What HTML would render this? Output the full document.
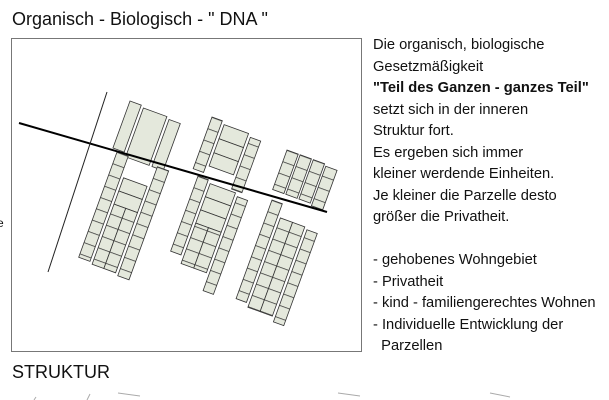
<!DOCTYPE html>
<html><head><meta charset="utf-8">
<style>
html,body{margin:0;padding:0;background:#fff;}
body{width:609px;height:400px;overflow:hidden;position:relative;font-family:"Liberation Sans",Arial,sans-serif;}
.t{position:absolute;white-space:nowrap;color:#111;}
</style></head><body>
<svg width="609" height="400" style="position:absolute;left:0;top:0">
<defs>
<pattern id="c" patternUnits="userSpaceOnUse" width="200" height="12">
<rect width="200" height="12" fill="#e4e8dc"/>
<path d="M0 0.4H200" stroke="#333" stroke-width="0.8"/>
</pattern>
</defs>
<rect x="11.5" y="38.5" width="350" height="313" fill="none" stroke="#777" stroke-width="1"/>
<g stroke="#333" stroke-width="0.8">
<g transform="translate(130,101) rotate(20)" fill="#e4e8dc">
<rect x="0" y="0" width="12" height="50"/>
<rect x="15" y="2" width="25" height="52"/>
<rect x="43" y="4" width="12" height="50"/>
</g>
<g transform="translate(117,152) rotate(20)">
<rect x="0" y="0" width="12" height="112" fill="url(#c)"/>
<rect x="15" y="22" width="25" height="14" fill="#e4e8dc"/>
<rect x="15" y="36" width="25" height="14" fill="#e4e8dc"/>
<rect x="15" y="50" width="12.5" height="64" fill="url(#c)"/>
<rect x="27.5" y="50" width="12.5" height="64" fill="url(#c)"/>
<rect x="43" y="0" width="12" height="116" fill="url(#c)"/>
</g>
<g transform="translate(212,117) rotate(20)">
<rect x="0" y="0" width="11" height="55" fill="url(#c)"/>
<rect x="14" y="3" width="26" height="15" fill="#e4e8dc"/>
<rect x="14" y="18" width="26" height="15" fill="#e4e8dc"/>
<rect x="14" y="33" width="26" height="14" fill="#e4e8dc"/>
<rect x="43" y="6" width="11" height="55" fill="url(#c)"/>
</g>
<g transform="translate(198,176) rotate(20)">
<rect x="0" y="0" width="11" height="80" fill="url(#c)"/>
<rect x="14" y="3" width="27" height="14" fill="#e4e8dc"/>
<rect x="14" y="17" width="27" height="14" fill="#e4e8dc"/>
<rect x="14" y="31" width="27" height="14" fill="#e4e8dc"/>
<rect x="14" y="45" width="13.5" height="43" fill="url(#c)"/>
<rect x="27.5" y="45" width="13.5" height="43" fill="url(#c)"/>
<rect x="44" y="6" width="11" height="100" fill="url(#c)"/>
</g>
<g transform="translate(287,150) rotate(20)">
<rect x="0" y="0" width="12" height="42" fill="url(#c)"/>
<rect x="14" y="0" width="12" height="42" fill="url(#c)"/>
<rect x="28" y="0" width="12" height="42" fill="url(#c)"/>
<rect x="42" y="2" width="12" height="42" fill="url(#c)"/>
</g>
<g transform="translate(272,200) rotate(20)">
<rect x="0" y="0" width="11" height="105" fill="url(#c)"/>
<rect x="14" y="14" width="13" height="95" fill="url(#c)"/>
<rect x="27" y="14" width="13" height="95" fill="url(#c)"/>
<rect x="43" y="16" width="11" height="98" fill="url(#c)"/>
</g>
</g>
<line x1="19" y1="123" x2="327" y2="212" stroke="#000" stroke-width="2"/>
<line x1="107" y1="92" x2="48" y2="272" stroke="#222" stroke-width="1"/>
<g stroke="#aaa" stroke-width="1">
<line x1="36" y1="397" x2="34" y2="400"/>
<line x1="90" y1="394" x2="87" y2="400"/>
<line x1="118" y1="393" x2="140" y2="396"/>
<line x1="338" y1="393" x2="360" y2="396"/>
<line x1="490" y1="393" x2="510" y2="397"/>
</g>
</svg>
<div class="t" style="left:12px;top:9px;font-size:18px;">Organisch - Biologisch - " DNA "</div>
<div class="t" style="left:12px;top:362px;font-size:18px;">STRUKTUR</div>
<div class="t" style="left:-3px;top:216px;font-size:12px;">e</div>
<div class="t" style="left:373px;top:35px;font-size:14.7px;line-height:21.5px;">
Die organisch, biologische<br>Gesetzmäßigkeit<br><b>"Teil des Ganzen - ganzes Teil"</b><br>setzt sich in der inneren<br>Struktur fort.<br>Es ergeben sich immer<br>kleiner werdende Einheiten.<br>Je kleiner die Parzelle desto<br>größer die Privatheit.<br><br>- gehobenes Wohngebiet<br>- Privatheit<br>- kind - familiengerechtes Wohnen<br>- Individuelle Entwicklung der<br>&nbsp;&nbsp;Parzellen
</div>
</body></html>
